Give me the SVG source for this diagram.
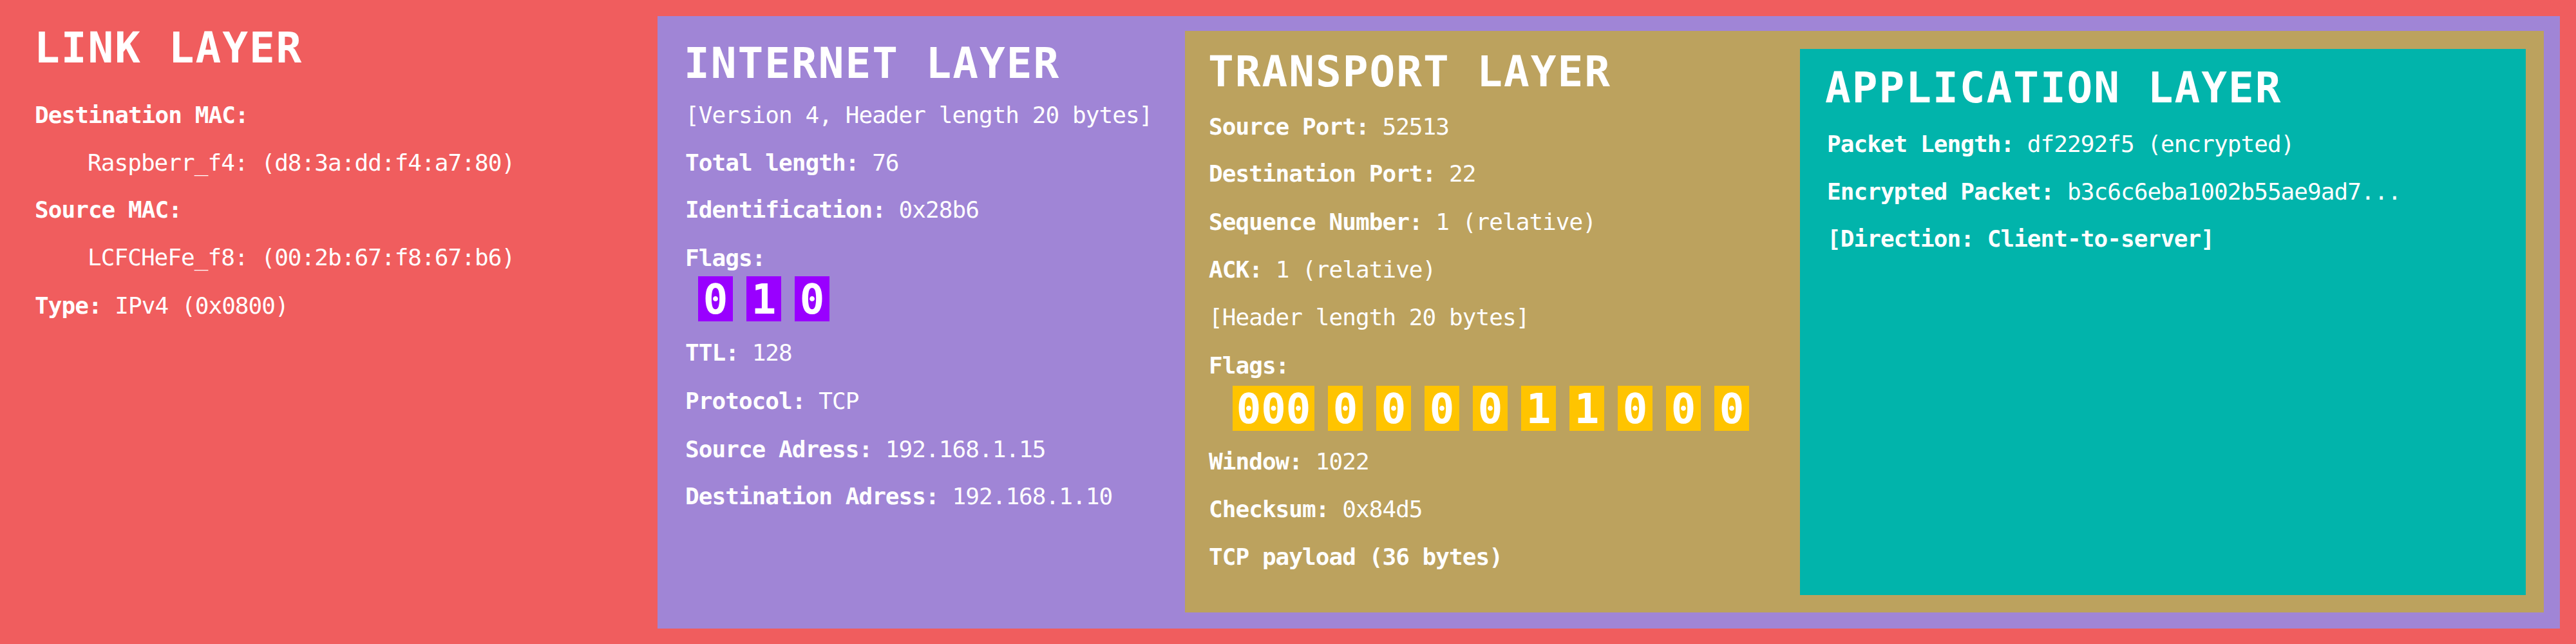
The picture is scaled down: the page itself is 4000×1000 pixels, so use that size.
<svg xmlns="http://www.w3.org/2000/svg" width="4000" height="1000" viewBox="0 0 4000 1000">
<style>
text{font-family:"DejaVu Sans Mono","Liberation Mono",monospace;fill:#ffffff}
.t{font-size:66px;font-weight:bold;letter-spacing:2px}
.b{font-size:36px;letter-spacing:-0.95px}
.k{font-weight:bold}
.f{font-size:64px;font-weight:bold;text-anchor:middle}
.fi{fill:#9900ff}
.ft{fill:#ffc400}
</style>
<g id="link-layer">
<rect x="0" y="0" width="4000" height="1000" fill="#f05d5e"/>
<text class="t" x="53" y="97">LINK LAYER</text>
<text class="b k" x="54" y="191">Destination MAC:</text>
<text class="b" x="136" y="265">Raspberr_f4: (d8:3a:dd:f4:a7:80)</text>
<text class="b k" x="54" y="338">Source MAC:</text>
<text class="b" x="136" y="412">LCFCHeFe_f8: (00:2b:67:f8:67:b6)</text>
<text class="b" x="54" y="487"><tspan class="k">Type:</tspan> IPv4 (0x0800)</text>
</g>
<g id="internet-layer">
<rect x="1021" y="25" width="2954" height="951" fill="#a085d6"/>
<text class="t" x="1062" y="121">INTERNET LAYER</text>
<text class="b" x="1064" y="191">[Version 4, Header length 20 bytes]</text>
<text class="b" x="1064" y="265"><tspan class="k">Total length:</tspan> 76</text>
<text class="b" x="1064" y="338"><tspan class="k">Identification:</tspan> 0x28b6</text>
<text class="b k" x="1064" y="413">Flags:</text>
<g id="ip-flags">
<rect class="fi" x="1084" y="429" width="54" height="70"/>
<rect class="fi" x="1159" y="429" width="54" height="70"/>
<rect class="fi" x="1234" y="429" width="54" height="70"/>
<text class="f" x="1111" y="487">0</text>
<text class="f" x="1186" y="487">1</text>
<text class="f" x="1261" y="487">0</text>
</g>
<text class="b" x="1064" y="560"><tspan class="k">TTL:</tspan> 128</text>
<text class="b" x="1064" y="635"><tspan class="k">Protocol:</tspan> TCP</text>
<text class="b" x="1064" y="710"><tspan class="k">Source Adress:</tspan> 192.168.1.15</text>
<text class="b" x="1064" y="783"><tspan class="k">Destination Adress:</tspan> 192.168.1.10</text>
</g>
<g id="transport-layer">
<rect x="1840" y="48" width="2110" height="903" fill="#bca25e"/>
<text class="t" x="1876" y="134">TRANSPORT LAYER</text>
<text class="b" x="1877" y="209"><tspan class="k">Source Port:</tspan> 52513</text>
<text class="b" x="1877" y="282"><tspan class="k">Destination Port:</tspan> 22</text>
<text class="b" x="1877" y="357"><tspan class="k">Sequence Number:</tspan> 1 (relative)</text>
<text class="b" x="1877" y="431"><tspan class="k">ACK:</tspan> 1 (relative)</text>
<text class="b" x="1877" y="505">[Header length 20 bytes]</text>
<text class="b k" x="1877" y="580">Flags:</text>
<g id="tcp-flags">
<rect class="ft" x="1914" y="599" width="127" height="70"/>
<rect class="ft" x="2062" y="599" width="54" height="70"/>
<rect class="ft" x="2137" y="599" width="54" height="70"/>
<rect class="ft" x="2212" y="599" width="54" height="70"/>
<rect class="ft" x="2287" y="599" width="54" height="70"/>
<rect class="ft" x="2362" y="599" width="54" height="70"/>
<rect class="ft" x="2437" y="599" width="54" height="70"/>
<rect class="ft" x="2512" y="599" width="54" height="70"/>
<rect class="ft" x="2587" y="599" width="54" height="70"/>
<rect class="ft" x="2662" y="599" width="54" height="70"/>
<text class="f" x="1977.5" y="657">000</text>
<text class="f" x="2089" y="657">0</text>
<text class="f" x="2164" y="657">0</text>
<text class="f" x="2239" y="657">0</text>
<text class="f" x="2314" y="657">0</text>
<text class="f" x="2389" y="657">1</text>
<text class="f" x="2464" y="657">1</text>
<text class="f" x="2539" y="657">0</text>
<text class="f" x="2614" y="657">0</text>
<text class="f" x="2689" y="657">0</text>
</g>
<text class="b" x="1877" y="729"><tspan class="k">Window:</tspan> 1022</text>
<text class="b" x="1877" y="803"><tspan class="k">Checksum:</tspan> 0x84d5</text>
<text class="b k" x="1877" y="877">TCP payload (36 bytes)</text>
</g>
<g id="application-layer">
<rect x="2795" y="76" width="1127" height="848" fill="#01b4ab"/>
<text class="t" x="2834" y="159">APPLICATION LAYER</text>
<text class="b" x="2837" y="236"><tspan class="k">Packet Length:</tspan> df2292f5 (encrypted)</text>
<text class="b" x="2837" y="310"><tspan class="k">Encrypted Packet:</tspan> b3c6c6eba1002b55ae9ad7...</text>
<text class="b k" x="2837" y="383">[Direction: Client-to-server]</text>
</g>
<g id="connectors"/>
</svg>
